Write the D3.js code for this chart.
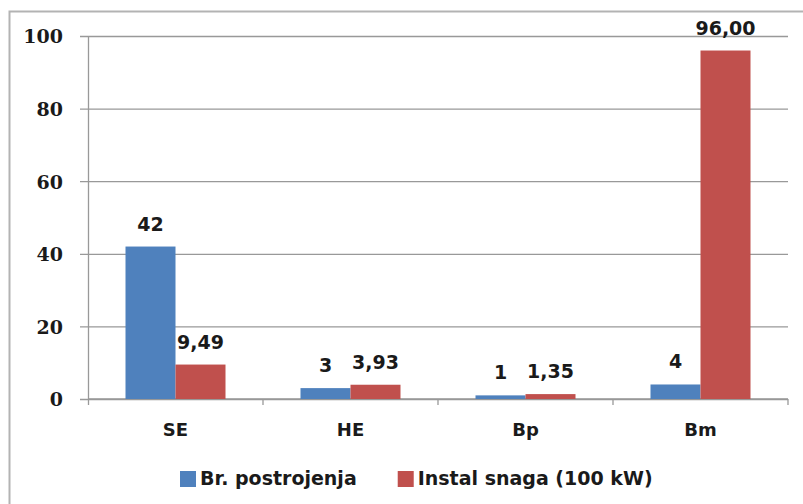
<!DOCTYPE html>
<html>
<head>
<meta charset="utf-8">
<script src="https://cdn.jsdelivr.net/npm/d3@7"></script>
<style>
  body { margin: 0; background: #fff; }
  svg { display: block; }
</style>
</head>
<body>
<div id="chart"></div>
<script>
  var categories = ["SE", "HE", "Bp", "Bm"];
  var seriesNames = ["Br. postrojenja", "Instal snaga (100 kW)"];
  var brPostrojenja = [42, 3, 1, 4];
  var instalSnaga = [9.49, 3.93, 1.35, 96.00];
  var yTicks = [0, 20, 40, 60, 80, 100];

  var colors = ["#4f81bd", "#c0504d"];

  var outerWidth = 803,
      outerHeight = 504,
      margin = {top: 36, right: 15, bottom: 105, left: 88},
      width = outerWidth - margin.left - margin.right,
      height = outerHeight - margin.top - margin.bottom;

  var svg = d3.select("#chart").append("svg")
      .attr("width", outerWidth)
      .attr("height", outerHeight);

  // outer chart frame (runs off the right and bottom edges)
  svg.append("rect")
      .attr("x", 9.5)
      .attr("y", 11.5)
      .attr("width", outerWidth + 20)
      .attr("height", outerHeight + 20)
      .attr("fill", "none")
      .attr("stroke", "#b3b3b3")
      .attr("stroke-width", 2);

  var g = svg.append("g")
      .attr("transform", "translate(" + margin.left + "," + margin.top + ")");

  var x0 = d3.scaleBand()
      .domain(categories)
      .range([0, width]);

  var x1 = d3.scaleBand()
      .domain([0, 1])
      .range([0, x0.bandwidth()])
      .paddingOuter(0.75);

  var y = d3.scaleLinear()
      .domain([0, 100])
      .range([height, 0]);

  var yAxis = d3.axisLeft(y)
      .tickValues(yTicks)
      .tickSize(-width)
      .tickSizeOuter(0)
      .tickPadding(25)
      .tickFormat(d3.format("d"));

  var yAxisG = g.append("g")
      .attr("class", "axis axis--y")
      .call(yAxis);

  yAxisG.select(".domain").remove();
  yAxisG.selectAll(".tick line")
      .attr("x1", -8)
      .attr("stroke", "#999")
      .attr("stroke-width", 1.3);
  yAxisG.selectAll(".tick text")
      .style("font", "bold 19px 'DejaVu Serif', serif")
      .attr("fill", "#1a1a1a")
      .attr("dy", "0.36em");

  // y axis line
  g.append("line")
      .attr("x1", 0.5).attr("x2", 0.5)
      .attr("y1", 0).attr("y2", height + 6)
      .attr("stroke", "#999")
      .attr("stroke-width", 1.3);

  // x axis with tick marks between categories
  var xAxisG = g.append("g")
      .attr("class", "axis axis--x")
      .attr("transform", "translate(0," + height + ")");

  xAxisG.append("line")
      .attr("x1", 0).attr("x2", width)
      .attr("stroke", "#999")
      .attr("stroke-width", 1.3);

  xAxisG.selectAll(".sep")
      .data(categories)
    .enter().append("line")
      .attr("class", "sep")
      .attr("x1", d => x0(d) + x0.bandwidth())
      .attr("x2", d => x0(d) + x0.bandwidth())
      .attr("y1", 0).attr("y2", 6)
      .attr("stroke", "#999")
      .attr("stroke-width", 1.3);

  xAxisG.selectAll(".cat")
      .data(categories)
    .enter().append("text")
      .attr("class", "cat")
      .attr("x", d => x0(d) + x0.bandwidth() / 2)
      .attr("y", 37)
      .attr("text-anchor", "middle")
      .style("font", "bold 18px 'DejaVu Sans', sans-serif")
      .attr("fill", "#1a1a1a")
      .text(d => d);

  var rows = categories.map((c, i) => ({
    category: c,
    values: [brPostrojenja[i], instalSnaga[i]]
  }));

  var labelFormat = [
    d => d3.format("d")(d),
    d => d3.format(".2f")(d).replace(".", ",")
  ];

  var groups = g.selectAll(".group")
      .data(rows)
    .enter().append("g")
      .attr("class", "group")
      .attr("transform", d => "translate(" + x0(d.category) + ",0)");

  groups.selectAll("rect")
      .data(d => d.values.map((v, k) => ({k: k, value: v})))
    .enter().append("rect")
      .attr("x", d => x1(d.k))
      .attr("y", d => y(d.value))
      .attr("width", x1.bandwidth())
      .attr("height", d => height - y(d.value))
      .attr("fill", d => colors[d.k]);

  groups.selectAll(".val")
      .data(d => d.values.map((v, k) => ({k: k, value: v})))
    .enter().append("text")
      .attr("class", "val")
      .attr("x", d => x1(d.k) + x1.bandwidth() / 2)
      .attr("y", d => y(d.value) - 16)
      .attr("text-anchor", "middle")
      .style("font", "bold 19px 'DejaVu Sans', sans-serif")
      .attr("fill", "#1a1a1a")
      .text(d => labelFormat[d.k](d.value));

  // legend
  var legend = svg.append("g")
      .attr("class", "legend")
      .attr("transform", "translate(180,471)");

  var lx = 0;
  seriesNames.forEach(function(name, k) {
    var item = legend.append("g").attr("transform", "translate(" + lx + ",0)");
    item.append("rect")
        .attr("width", 16)
        .attr("height", 16)
        .attr("fill", colors[k]);
    var t = item.append("text")
        .attr("x", 20)
        .attr("y", 14)
        .style("font", "bold 19px 'DejaVu Sans', sans-serif")
        .attr("fill", "#1a1a1a")
        .text(name);
    lx += 20 + t.node().getComputedTextLength() + 41;
  });
</script>
</body>
</html>
